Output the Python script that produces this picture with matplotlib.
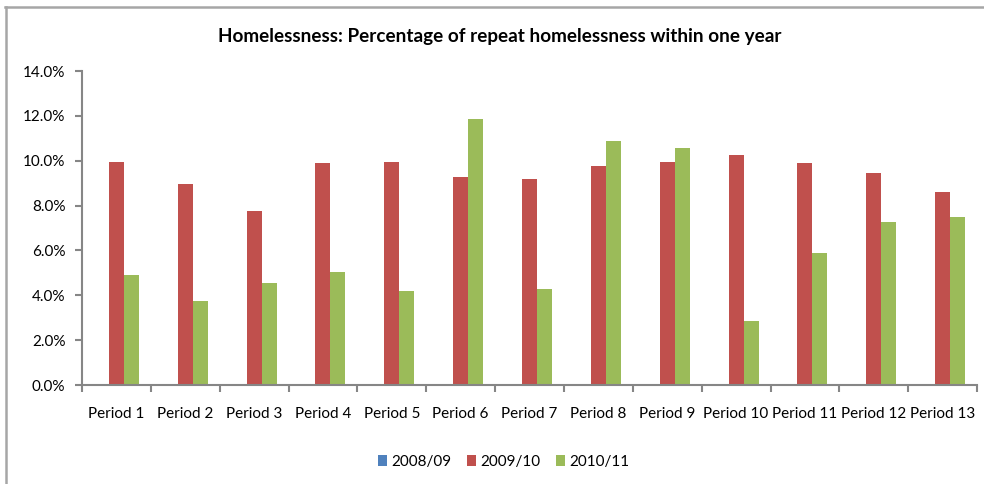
import matplotlib.pyplot as plt
import numpy as np
from matplotlib.lines import Line2D
from matplotlib.ticker import FuncFormatter, MultipleLocator

plt.rcParams['font.family'] = ['Lato', 'DejaVu Sans']

periods = ['Period 1', 'Period 2', 'Period 3', 'Period 4', 'Period 5', 'Period 6', 'Period 7',
           'Period 8', 'Period 9', 'Period 10', 'Period 11', 'Period 12', 'Period 13']
series_names = ['2008/09', '2009/10', '2010/11']
rate_0809 = [0, 0, 0, 0, 0, 0, 0, 0, 0, 0, 0, 0, 0]
rate_0910 = [9.96, 8.96, 7.74, 9.88, 9.96, 9.27, 9.17, 9.76, 9.96, 10.25, 9.88, 9.45, 8.60]
rate_1011 = [4.90, 3.74, 4.55, 5.04, 4.18, 11.86, 4.28, 10.88, 10.57, 2.87, 5.88, 7.25, 7.49]
colors = ['#4F81BD', '#C0504D', '#9BBB59']

fig = plt.figure(figsize=(9.84, 4.84), dpi=100)
ax = fig.add_axes([0.0833, 0.2045, 0.9097, 0.6488])

x = np.arange(len(periods))
w = 0.217
for i, (vals, name) in enumerate(zip([rate_0809, rate_0910, rate_1011], series_names)):
    ax.bar(x + (i - 1) * w, vals, width=w, color=colors[i], label=name, edgecolor='none')

axis_col = '#868686'
ax.set_xlim(-0.5, len(periods) - 0.5)
ax.set_ylim(0, 14)
ax.yaxis.set_major_locator(MultipleLocator(2))
ax.yaxis.set_major_formatter(FuncFormatter(lambda v, p: f'{v:.1f}%'))
ax.set_xticks(x)
ax.set_xticklabels(periods)
ax.set_xticks(np.arange(-0.5, len(periods)), minor=True)
ax.tick_params(axis='x', which='major', length=0, pad=16, labelsize=11)
ax.tick_params(axis='x', which='minor', length=5, width=1.5, color=axis_col, direction='out')
ax.tick_params(axis='y', length=5, width=1.5, color=axis_col, pad=7, labelsize=11)

for s in ['top', 'right']:
    ax.spines[s].set_visible(False)
for s in ['left', 'bottom']:
    ax.spines[s].set_color(axis_col)
    ax.spines[s].set_linewidth(1.5)

fig.text(0.508, 0.925, 'Homelessness: Percentage of repeat homelessness within one year',
         ha='center', va='center', fontsize=13.6, fontweight='bold')

leg = fig.legend(loc='center', bbox_to_anchor=(0.512, 0.045), ncol=3, frameon=False,
                 fontsize=11, handlelength=0.6, handleheight=0.75, handletextpad=0.3,
                 columnspacing=1.0)

# chart frame (top and left edges)
fig.add_artist(Line2D([5 / 984, 1], [1 - 7 / 484, 1 - 7 / 484], transform=fig.transFigure,
                      color='#a6a6a6', lw=1.8))
fig.add_artist(Line2D([6 / 984, 6 / 984], [0, 1 - 7 / 484], transform=fig.transFigure,
                      color='#a6a6a6', lw=1.8))

fig.savefig('out.png', dpi=100, facecolor='white')
